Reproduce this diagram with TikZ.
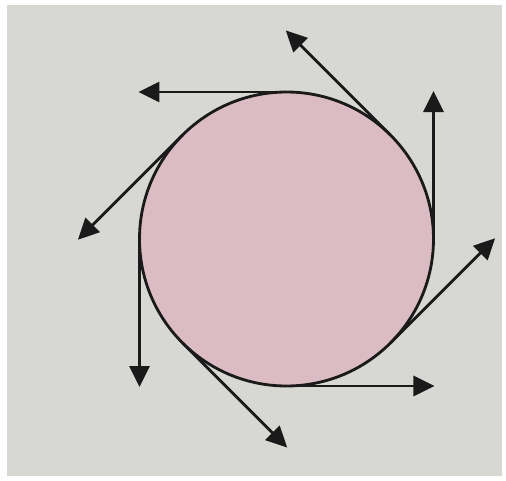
\documentclass[tikz,border=0pt]{standalone}
\usepackage{tikz}
\usetikzlibrary{arrows.meta}
\definecolor{paper}{HTML}{D7D7D4}
\definecolor{discfill}{HTML}{DCBCC4}
\definecolor{dink}{HTML}{1A1A1A}
\tikzset{
  disc/.style ={circle, draw=dink, line width=1.6pt, fill=discfill,
                minimum size=5.88cm, inner sep=0pt, outer sep=0pt},
  vel/.style  ={-{Triangle[length=4.2mm, width=4mm]}, line width=1.6pt, draw=dink},
}

\begin{document}
\begin{tikzpicture}
  % photo background with its white rim
  \fill[white] (0,0) rectangle (10.12,9.6);
  \fill[paper] (0.14,0.08) rectangle (10.04,9.5);
  \node[disc] (wheel) at (5.73,4.82) {};
  % tangent velocity at every 45 degrees
  \foreach \a in {0,45,...,315}
    \draw[vel] (wheel.\a) -- ++(\a+90:2.96);
\end{tikzpicture}
\end{document}
